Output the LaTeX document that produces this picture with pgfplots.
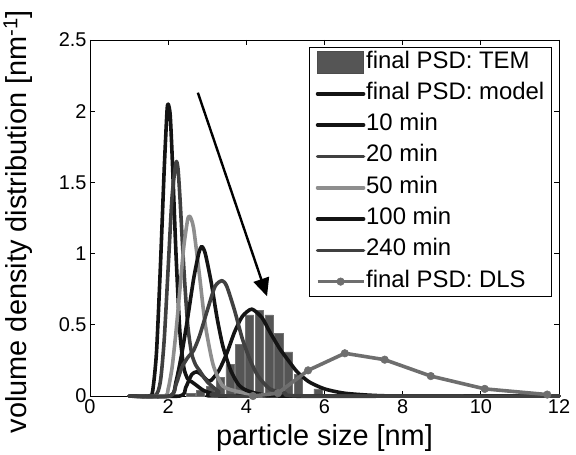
\documentclass[border=0pt]{standalone}
\usepackage{fontspec}
\setmainfont{Liberation Sans}
\usepackage{pgfplots}
\pgfplotsset{compat=1.18}
\usetikzlibrary{arrows.meta}
\definecolor{kblack}{HTML}{141414}
\definecolor{kdark}{HTML}{404040}
\definecolor{klight}{HTML}{8E8E8E}
\definecolor{kdls}{HTML}{6E6E6E}
\definecolor{ktem}{HTML}{555555}
\pgfplotsset{
  crv/.style={line width=3.6bp,line join=round,line cap=round,smooth,tension=0.4},
}
\begin{document}
\begin{tikzpicture}
\useasboundingbox (-90bp,-59bp) rectangle (486bp,396bp);
\begin{axis}[
  scale only axis, width=469bp, height=356bp,
  xmin=0, xmax=12, ymin=0, ymax=2.5,
  xtick={0,2,4,6,8,10,12}, ytick={0,0.5,1,1.5,2,2.5},
  tick align=inside, major tick length=5bp,
  axis line style={line width=0.8bp},
  every tick/.style={black,line width=0.8bp},
  clip=false,
  /pgf/number format/assume math mode=true,
  tick label style={font=\fontsize{20}{24}\selectfont},
  xlabel={particle size [nm]},
  ylabel={volume density distribution [nm\textsuperscript{-1}]},
  every axis x label/.style={at={(axis description cs:0.5,-0.118)},anchor=center,
    font=\fontsize{29}{34}\selectfont},
  every axis y label/.style={at={(axis description cs:-0.1535,0.49)},anchor=center,rotate=90,
    font=\fontsize{29}{34}\selectfont},
  legend style={at={(0.985,0.98)},anchor=north east,draw=black,line width=0.8bp,
    font=\fontsize{24}{28}\selectfont,row sep=7.3bp,inner xsep=6.5bp,inner ysep=3bp,
    nodes={inner xsep=0.8bp,inner ysep=1.5bp,text height=16bp,text depth=5bp}},
  legend cell align=left,
  legend image code/.code={\draw[mark repeat=2,mark phase=2,#1] plot coordinates {(0bp,0bp) (23bp,0bp) (46bp,0bp)};},
]
% TEM histogram
\addplot[ybar,bar width=0.21,fill=ktem,draw=black!55,line width=0.5bp,
  legend image code/.code={\draw[fill=ktem,draw=black!70,line width=0.6bp] (0bp,-11bp) rectangle (46bp,11bp);}]
  coordinates {(2.58,0.02) (2.83,0.04) (3.08,0.07) (3.33,0.13) (3.58,0.22) (3.83,0.36)
    (4.08,0.57) (4.33,0.60) (4.58,0.57) (4.83,0.44) (5.08,0.31) (5.33,0.15) (5.83,0.05)};
\addlegendentry{final PSD: TEM}
% final PSD model
\addplot[crv,kblack] coordinates {(1,0) (2.3,0) (2.45,0.06) (2.6,0.15) (2.73,0.17) (2.85,0.15)
  (3.0,0.11) (3.1,0.11) (3.3,0.18) (3.5,0.3) (3.7,0.45) (3.9,0.56) (4.14,0.61) (4.4,0.55)
  (4.6,0.45) (4.86,0.33) (5.1,0.24) (5.3,0.17) (5.6,0.1) (6.0,0.05) (6.5,0.02) (7.2,0.005) (8,0) (12,0)};
\addlegendentry{final PSD: model}
% 10 min
\addplot[crv,kblack] coordinates {(1,0) (1.5,0) (1.6,0.03) (1.7,0.3) (1.8,0.9) (1.9,1.6) (1.97,2.0)
  (2.0,2.05) (2.05,1.98) (2.1,1.7) (2.2,1.0) (2.3,0.45) (2.4,0.2) (2.5,0.12) (2.6,0.1) (2.7,0.08)
  (2.9,0.04) (3.2,0.01) (3.5,0) (12,0)};
\addlegendentry{10 min}
% 20 min
\addplot[crv,kdark] coordinates {(1,0) (1.65,0) (1.8,0.1) (1.9,0.4) (2.0,0.9) (2.1,1.4) (2.2,1.64)
  (2.25,1.6) (2.3,1.4) (2.4,0.9) (2.5,0.5) (2.6,0.3) (2.7,0.22) (2.8,0.18) (3.0,0.1) (3.3,0.03) (3.6,0) (12,0)};
\addlegendentry{20 min}
% 50 min
\addplot[crv,klight] coordinates {(1,0) (1.9,0) (2.0,0.05) (2.1,0.2) (2.2,0.45) (2.3,0.75) (2.4,1.05)
  (2.5,1.24) (2.56,1.26) (2.65,1.18) (2.8,0.85) (2.95,0.5) (3.15,0.22) (3.4,0.07) (3.8,0.03)
  (4.2,0.01) (4.8,0) (12,0)};
\addlegendentry{50 min}
% 100 min
\addplot[crv,kblack] coordinates {(1,0) (2.05,0) (2.2,0.1) (2.35,0.3) (2.5,0.55) (2.65,0.82) (2.78,1.0)
  (2.86,1.05) (2.95,1.0) (3.1,0.8) (3.25,0.55) (3.4,0.35) (3.6,0.18) (3.8,0.08) (4.0,0.04)
  (4.4,0.01) (5,0) (12,0)};
\addlegendentry{100 min}
% 240 min
\addplot[crv,kdark] coordinates {(1,0) (2.05,0) (2.2,0.08) (2.35,0.2) (2.5,0.27) (2.65,0.32) (2.8,0.42)
  (3.0,0.6) (3.2,0.77) (3.38,0.81) (3.5,0.77) (3.7,0.6) (3.9,0.4) (4.1,0.25) (4.3,0.14)
  (4.6,0.05) (5.0,0.02) (5.5,0) (12,0)};
\addlegendentry{240 min}
% DLS
\addplot[kdls,line width=3.6bp,line join=round,mark=*,mark size=3.8bp,mark options={fill=kdls,draw=kdls,line width=0.5bp}]
  coordinates {(4.17,0) (4.81,0.02) (5.58,0.18) (6.52,0.30) (7.54,0.255) (8.72,0.14) (10.1,0.05) (11.7,0.01)};
\addlegendentry{final PSD: DLS}
\draw[-{Triangle[length=18bp,width=16bp]},line width=2.4bp,black] (axis cs:2.76,2.13) -- (axis cs:4.53,0.70);
\end{axis}
\end{tikzpicture}
\end{document}
